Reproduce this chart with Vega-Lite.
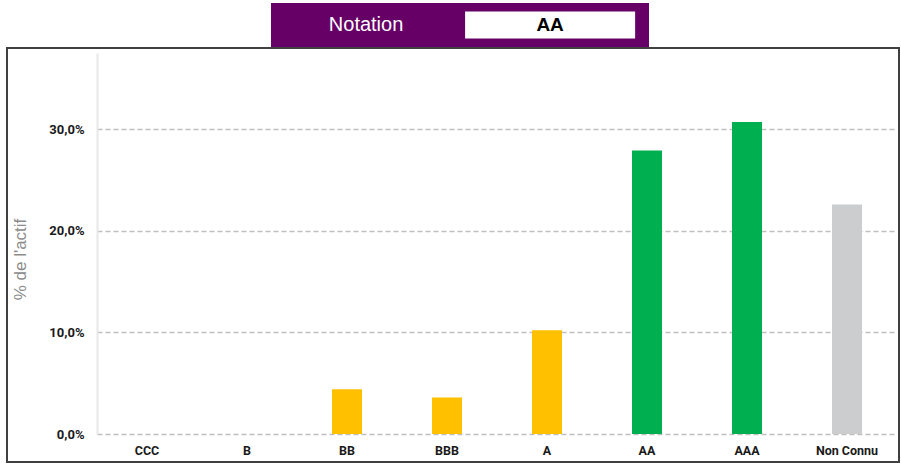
{
  "$schema": "https://vega.github.io/schema/vega-lite/v6.json",
  "padding": {"left": 6, "top": 3, "right": 2, "bottom": 2},
  "background": "white",
  "spacing": 0,
  "config": {
    "locale": {"number": {"decimal": ",", "thousands": "\u00a0", "grouping": [3], "currency": ["", " €"]}},
    "font": "Liberation Sans"
  },
  "vconcat": [
    {
      "spacing": 0,
      "hconcat": [
        {
          "width": 264,
          "height": 44,
          "view": {"stroke": null, "fill": null},
          "data": {"values": []},
          "mark": {"type": "point", "opacity": 0},
          "encoding": {}
        },
        {
          "width": 378,
          "height": 44,
          "view": {"fill": "#660066", "stroke": null},
          "data": {"values": [
            {"champ": "Notation", "texte": "Notation", "role": "libelle"},
            {"champ": "Valeur", "texte": "AA", "role": "valeur"}
          ]},
          "encoding": {
            "x": {"field": "champ", "type": "nominal", "sort": ["Notation", "Valeur"], "axis": null,
                  "scale": {"domain": ["Notation", "Valeur"], "paddingInner": 0.076, "paddingOuter": 0.065, "align": 0.42}}
          },
          "layer": [
            {
              "transform": [{"filter": "datum.role === 'valeur'"}],
              "mark": {"type": "rect", "fill": "white"},
              "encoding": {"y": {"datum": "boite", "type": "nominal", "axis": null,
                                  "scale": {"paddingInner": 0, "paddingOuter": 0.315}}}
            },
            {
              "transform": [{"filter": "datum.role === 'libelle'"}],
              "mark": {"type": "text", "fontSize": 20, "color": "white", "font": "Liberation Sans"},
              "encoding": {"text": {"field": "texte"}}
            },
            {
              "transform": [{"filter": "datum.role === 'valeur'"}],
              "mark": {"type": "text", "fontSize": 19, "fontWeight": "bold", "color": "black", "font": "Liberation Sans"},
              "encoding": {"text": {"field": "texte"}}
            }
          ]
        }
      ]
    },
    {
      "width": 892,
      "height": 414,
      "view": {"stroke": "#404040", "strokeWidth": 2},
      "data": {"values": [
        {"notation": "CCC", "part": 0, "niveau": "Faible"},
        {"notation": "B", "part": 0, "niveau": "Faible"},
        {"notation": "BB", "part": 0.044, "niveau": "Intermédiaire"},
        {"notation": "BBB", "part": 0.036, "niveau": "Intermédiaire"},
        {"notation": "A", "part": 0.102, "niveau": "Intermédiaire"},
        {"notation": "AA", "part": 0.279, "niveau": "Élevé"},
        {"notation": "AAA", "part": 0.307, "niveau": "Élevé"},
        {"notation": "Non Connu", "part": 0.226, "niveau": "Inconnu"}
      ]},
      "mark": {"type": "bar"},
      "encoding": {
        "x": {
          "field": "notation", "type": "nominal",
          "sort": ["CCC", "B", "BB", "BBB", "A", "AA", "AAA", "Non Connu"],
          "scale": {"range": [90, 890], "paddingInner": 0.7, "paddingOuter": 0.35},
          "axis": {
            "title": null, "orient": "bottom", "offset": -28, "domain": false, "ticks": false, "grid": false,
            "labelAngle": 0, "labelPadding": 10, "labelFont": "Roboto", "labelFontSize": 12.5,
            "labelFontWeight": "bold", "labelColor": "#1a1a1a"
          }
        },
        "y": {
          "field": "part", "type": "quantitative",
          "scale": {"domain": [0, 0.375], "range": [386, 5], "nice": false, "zero": true},
          "axis": {
            "title": "% de l'actif", "orient": "left", "offset": -90,
            "values": [0, 0.1, 0.2, 0.3], "format": ".1%",
            "domain": true, "domainColor": "#e8e8e8", "domainWidth": 2,
            "ticks": false, "labelPadding": 13,
            "labelFont": "Roboto", "labelFontSize": 13, "labelFontWeight": "bold", "labelColor": "#1a1a1a",
            "grid": true, "gridColor": "#bfbfbf", "gridDash": [5, 3], "gridWidth": 1.3,
            "titleFont": "Liberation Sans", "titleFontSize": 17, "titleFontWeight": "normal", "titleColor": "#8c8c8c",
            "titleX": -77, "titleY": 211, "titleAngle": -90, "titleAlign": "center", "titleBaseline": "middle"
          }
        },
        "color": {
          "field": "niveau", "type": "nominal", "legend": null,
          "scale": {"domain": ["Faible", "Intermédiaire", "Élevé", "Inconnu"],
                    "range": ["#FF0000", "#FFC000", "#00B050", "#CCCDCF"]}
        }
      }
    }
  ]
}
